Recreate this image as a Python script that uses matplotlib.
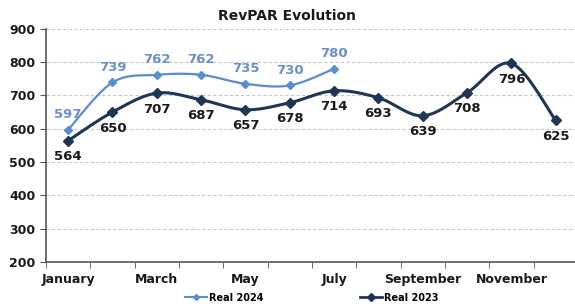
import numpy as np
import matplotlib.pyplot as plt

months = ['January', 'February', 'March', 'April', 'May', 'June', 'July',
          'August', 'September', 'October', 'November', 'December']
real_2024 = [597, 739, 762, 762, 735, 730, 780]
real_2023 = [564, 650, 707, 687, 657, 678, 714, 693, 639, 708, 796, 625]

c2024 = '#5b8bd0'
c2023 = '#1f3556'


def smooth(y, n=20):
    # catmull-rom curve through the points, like Excel's smoothed line
    y = np.asarray(y, dtype=float)
    x = np.arange(len(y), dtype=float)
    px = np.concatenate([[x[0]], x, [x[-1]]])
    py = np.concatenate([[y[0]], y, [y[-1]]])
    xs, ys = [], []
    for i in range(1, len(px) - 2):
        t = np.linspace(0, 1, n, endpoint=False)
        for p, out in ((px, xs), (py, ys)):
            p0, p1, p2, p3 = p[i - 1], p[i], p[i + 1], p[i + 2]
            out.extend(0.5 * (2 * p1 + (-p0 + p2) * t
                              + (2 * p0 - 5 * p1 + 4 * p2 - p3) * t ** 2
                              + (-p0 + 3 * p1 - 3 * p2 + p3) * t ** 3))
    xs.append(x[-1])
    ys.append(y[-1])
    return np.array(xs), np.array(ys)


fig = plt.figure(figsize=(5.75, 3.07), dpi=100)
ax = fig.add_axes([0.08, 0.147, 0.925, 0.759])

x24, y24 = smooth(real_2024)
x23, y23 = smooth(real_2023)
ax.plot(x24, y24, color=c2024, lw=1.6, zorder=3)
ax.plot(range(len(real_2024)), real_2024, 'D', color=c2024, ms=4, zorder=4)
ax.plot(x23, y23, color=c2023, lw=2.2, zorder=3)
ax.plot(range(len(real_2023)), real_2023, 'D', color=c2023, ms=5, zorder=4)

for i, v in enumerate(real_2024):
    ax.annotate(str(v), (i, v), xytext=(0, 6), textcoords='offset points',
                ha='center', va='bottom', color='#6b8fc8', fontsize=9.5, fontweight='bold')
for i, v in enumerate(real_2023):
    ax.annotate(str(v), (i, v), xytext=(0, -7), textcoords='offset points',
                ha='center', va='top', color='#1a1a1a', fontsize=9.5, fontweight='bold')

ax.set_xlim(-0.5, 11.5)
ax.set_ylim(200, 900)
ax.set_yticks(range(200, 901, 100))
ax.set_xticks(range(0, 12, 2))
ax.set_xticklabels(months[::2])
ax.set_xticks(np.arange(-0.5, 12, 1), minor=True)
ax.tick_params(axis='x', which='major', length=0, pad=8)
ax.tick_params(axis='x', which='minor', length=4, color='#555555')
ax.tick_params(axis='y', length=4, color='#555555')
for lab in ax.get_xticklabels() + ax.get_yticklabels():
    lab.set_fontweight('bold')
    lab.set_fontsize(9)
    lab.set_color('#1a1a1a')

ax.grid(axis='y', color='#c8c8c8', ls=(0, (3, 2)), lw=0.8)
ax.set_axisbelow(True)
for s in ['top', 'right']:
    ax.spines[s].set_visible(False)
for s in ['left', 'bottom']:
    ax.spines[s].set_color('#555555')
    ax.spines[s].set_linewidth(1.2)

fig.text(0.5, 0.948, 'RevPAR Evolution', ha='center', va='center',
         fontsize=10, fontweight='bold', color='#1a1a1a')

h1, = plt.plot([], [], '-D', color=c2024, ms=3, lw=1.5)
h2, = plt.plot([], [], '-D', color=c2023, ms=4, lw=2)
fig.legend([h1, h2], ['Real 2024', 'Real 2023'], loc='center', bbox_to_anchor=(0.542, 0.03),
           ncol=2, frameon=False, handlelength=2.2, handletextpad=0.2,
           columnspacing=10, prop={'weight': 'bold', 'size': 7})

fig.savefig('out.png', dpi=100)
